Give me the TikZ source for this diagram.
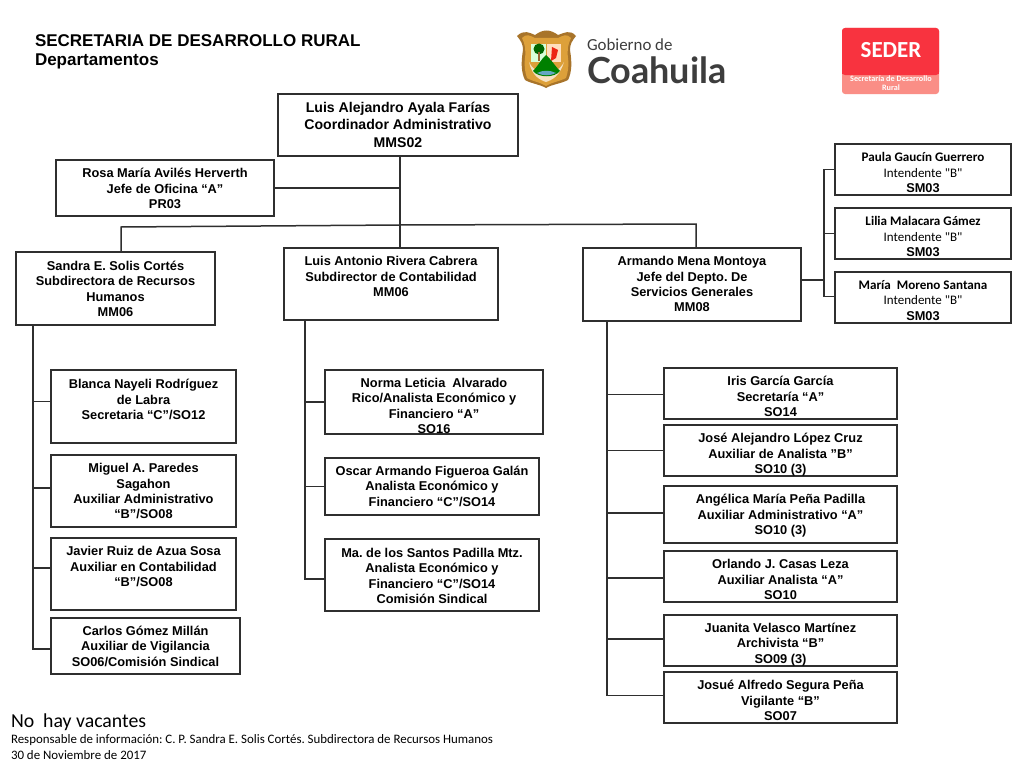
\documentclass[tikz,border=0pt]{standalone}
\usepackage{fontspec}
\setmainfont{Liberation Sans}
\newfontfamily\calfam{Carlito}
\newfontfamily\latofam{Lato}
\usetikzlibrary{calc}
\definecolor{ln}{HTML}{2F2F2F}
\definecolor{sred}{HTML}{F8333F}
\definecolor{spink}{HTML}{FA8E86}
\definecolor{cgray}{HTML}{3D3D3D}
\definecolor{sgold}{HTML}{DDA03A}
\definecolor{sbrown}{HTML}{A8742A}
\tikzset{
  box/.style={draw=ln,line width=1.2pt,fill=white,inner sep=0pt,outer sep=0pt,font=\bfseries\fontsize{12.8}{15.4}\selectfont},
  bigbox/.style={box,font=\bfseries\fontsize{14.1}{17.6}\selectfont},
  link/.style={draw=ln,line width=1.5pt},
  plain/.style={inner sep=0pt,outer sep=0pt}
}
\newcommand{\cname}[1]{{\calfam\fontsize{13.1}{15.4}\selectfont #1}}
\newcommand{\cintd}{{\calfam\mdseries\fontsize{13}{15.4}\selectfont Intendente "B"}}
% x1, y1, x2, y2, top gap, text, name
\newcommand{\orgbox}[8][box]{%
  \pgfmathsetlengthmacro{\bw}{#4-#2}%
  \pgfmathsetlengthmacro{\bh}{#5-#3}%
  \pgfmathsetmacro{\cx}{(#2+#4)/2}%
  \pgfmathsetmacro{\cy}{(#3+#5)/2}%
  \node[#1] (#8) at (\cx,\cy) {\parbox[c][\bh][t]{\bw}{\centering\vspace*{#6pt}#7\par}};%
}
\begin{document}
\frenchspacing
\begin{tikzpicture}[x=1pt,y=-1pt]
\useasboundingbox (0,0) rectangle (1024,768);
\fill[white] (0,0) rectangle (1024,768);
% named points of the trunks
\coordinate (t1) at (400,225);
\coordinate (t2) at (121,227);
\coordinate (t3) at (696,224);
\coordinate (sx) at (33,325);
\coordinate (lx) at (305,320);
\coordinate (ax) at (607,321);
\coordinate (rx) at (824,280);
% boxes
\orgbox[bigbox]{278}{94}{518}{156}{8}{Luis Alejandro Ayala Farías\\Coordinador Administrativo\\MMS02}{top}
\orgbox{56}{160}{274}{216}{8.5}{Rosa María Avilés Herverth\\Jefe de Oficina “A”\\PR03}{rosa}
\orgbox{16}{252}{215}{325}{9}{Sandra E. Solis Cortés\\Subdirectora de Recursos\\Humanos\\MM06}{sandra}
\orgbox{284}{248}{498}{320}{8.5}{Luis Antonio Rivera Cabrera\\Subdirector de Contabilidad\\MM06}{luis}
\orgbox{583}{248}{801}{321}{8.5}{Armando Mena Montoya\\Jefe del Depto. De\\Servicios Generales\\MM08}{armando}
\orgbox{835}{144}{1011}{195}{8.5}{\cname{Paula Gaucín Guerrero}\\\cintd\\SM03}{paula}
\orgbox{835}{208}{1011}{259}{8.5}{\cname{Lilia Malacara Gámez}\\\cintd\\SM03}{lilia}
\orgbox{835}{272}{1011}{323}{8.5}{\cname{María\ \ Moreno Santana}\\\cintd\\SM03}{maria}
\orgbox{51}{370}{236}{443}{9.5}{Blanca Nayeli Rodríguez\\de Labra\\Secretaria “C”/SO12}{blanca}
\orgbox{51}{455}{236}{527}{8.5}{Miguel A. Paredes\\Sagahon\\Auxiliar Administrativo\\“B”/SO08}{miguel}
\orgbox{51}{538}{236}{610}{8.5}{Javier Ruiz de Azua Sosa\\Auxiliar en Contabilidad\\“B”/SO08}{javier}
\orgbox{51}{618}{240}{674}{8}{Carlos Gómez Millán\\Auxiliar de Vigilancia\\SO06/Comisión Sindical}{carlos}
\orgbox{325}{370}{543}{434}{8}{Norma Leticia\ \ Alvarado\\Rico/Analista Económico y\\Financiero “A”\\SO16}{norma}
\orgbox{325}{458}{539}{515}{8}{Oscar Armando Figueroa Galán\\Analista Económico y\\Financiero “C”/SO14}{oscar}
\orgbox{325}{539}{539}{611}{9}{Ma. de los Santos Padilla Mtz.\\Analista Económico y\\Financiero “C”/SO14\\Comisión Sindical}{santos}
\orgbox{664}{368}{897}{419}{8.5}{Iris García García\\Secretaría “A”\\SO14}{iris}
\orgbox{664}{425}{897}{476}{8.5}{José Alejandro López Cruz\\Auxiliar de Analista ”B”\\SO10 (3)}{jose}
\orgbox{664}{486}{897}{543}{8.5}{Angélica María Peña Padilla\\Auxiliar Administrativo “A”\\SO10 (3)}{angelica}
\orgbox{664}{551}{897}{602}{8.5}{Orlando J. Casas Leza\\Auxiliar Analista “A”\\SO10}{orlando}
\orgbox{664}{615}{897}{666}{8}{Juanita Velasco Martínez\\Archivista “B”\\SO09 (3)}{juanita}
\orgbox{664}{672}{897}{723}{8.5}{Josué Alfredo Segura Peña\\Vigilante “B”\\SO07}{josue}
% connectors (yshift counts upward on the canvas)
\draw[link] (top.south -| t1) -- (t1);
\draw[link] (rosa.east) -- (rosa.east -| t1);
\draw[link] (t2 |- sandra.north) -- (t2) -- (t1) -- (t3) -- (t3 |- armando.north);
\draw[link] (t1) -- (t1 |- luis.north);
\draw[link] (sx) -- ([yshift=-3pt]sx |- carlos.west) -- ([yshift=-3pt]carlos.west);
\foreach \n/\s in {blanca/5,miguel/3,javier/6}{\draw[link] ([yshift=\s pt]sx |- \n.west) -- ([yshift=\s pt]\n.west);}
\draw[link] (lx) -- ([yshift=-4pt]lx |- santos.west) -- ([yshift=-4pt]santos.west);
\draw[link] (lx |- norma.west) -- (norma.west);
\draw[link] (lx |- oscar.west) -- (oscar.west);
\draw[link] (ax) -- ([yshift=2pt]ax |- josue.west) -- ([yshift=2pt]josue.west);
\foreach \n/\s in {iris/-1,jose/0,angelica/1.5,orlando/-1.5,juanita/1.5}{\draw[link] ([yshift=\s pt]ax |- \n.west) -- ([yshift=\s pt]\n.west);}
\draw[link] (armando.east |- rx) -- (rx);
\draw[link] (paula.west) -- (paula.west -| rx) -- ([yshift=1pt]rx |- maria.west) -- ([yshift=1pt]maria.west);
\draw[link] (lilia.west) -- (lilia.west -| rx);
% headings
\node[plain,anchor=base west,font=\bfseries\fontsize{17}{20}\selectfont] (h1) at (35,46) {SECRETARIA DE DESARROLLO RURAL};
\node[plain,anchor=base west,font=\bfseries\fontsize{17}{20}\selectfont] (h2) at (35,66) {Departamentos};
% Coahuila logo
\fill[sbrown] (517,36) .. controls (524,29) and (530,33) .. (535,35) .. controls (543,29) and (550,29) .. (558,35) .. controls (564,33) and (570,29) .. (576,36) .. controls (572,41) and (570,44) .. (570,50) .. controls (572,62) and (572,72) .. (568,80) .. controls (560,84) and (553,84) .. (546,88) .. controls (539,84) and (532,84) .. (525,80) .. controls (521,72) and (521,62) .. (523,50) .. controls (523,44) and (521,41) .. (517,36) -- cycle;
\fill[sgold] (522,38) .. controls (526,33) and (531,36) .. (535,38) -- (558,38) .. controls (562,36) and (567,33) .. (571,38) .. controls (568,44) and (567,50) .. (568,58) .. controls (569,66) and (568,72) .. (566,78) .. controls (558,82) and (552,82) .. (546,86) .. controls (540,82) and (534,82) .. (527,78) .. controls (525,72) and (524,66) .. (525,58) .. controls (526,50) and (525,44) .. (522,38) -- cycle;
\fill[white!85!green] (531,44) rectangle (546,62);
\fill[green!40!black] (539,49) circle (5.5);
\fill[brown!80!black] (538,52) rectangle (540,61);
\fill[orange!25!white] (547,44) rectangle (561,62);
\fill[red!70!brown] (552,47) -- (558,50) -- (556,58) -- (551,61) -- cycle;
\fill[white!70!sgold] (529,62) .. controls (532,76) and (540,80) .. (546,82) .. controls (552,80) and (560,76) .. (564,62) .. controls (560,70) and (552,74) .. (546,74) .. controls (540,74) and (533,70) .. (529,62) -- cycle;
\fill[green!50!black] (533,71) .. controls (538,66) and (542,58) .. (546,55) .. controls (550,58) and (555,66) .. (560,71) .. controls (555,78) and (538,78) .. (533,71) -- cycle;
\fill[cyan!50!gray] (537,73) .. controls (543,70) and (550,70) .. (556,73) .. controls (550,76) and (543,76) .. (537,73) -- cycle;
\node[plain,anchor=base west,text=cgray,font=\calfam\fontsize{16.9}{20}\selectfont] (gob) at (587,51) {Gobierno de};
\node[plain,anchor=base west,text=cgray,font=\latofam\bfseries\fontsize{36}{40}\selectfont] (coa) at (587,83) {Coahuila};
% SEDER logo
\fill[spink,rounded corners=3pt] (842,28) rectangle (939,94);
\fill[sred,rounded corners=3pt] (842,28) rectangle (939,75);
\fill[sred] (842,68) rectangle (939,74);
\node[plain,text=white,font=\calfam\bfseries\fontsize{23}{26}\selectfont] (seder) at (891,50) {SEDER};
\node[plain,text=white,align=center,font=\calfam\bfseries\fontsize{8.2}{8.8}\selectfont] (sub) at (891,83.5) {Secretaría de Desarrollo\\Rural};
% footer
\node[plain,anchor=base west,font=\calfam\fontsize{19.8}{24}\selectfont] (nv) at (11,727) {No\ \ hay vacantes};
\node[plain,anchor=base west,font=\calfam\fontsize{12.9}{16}\selectfont] (resp) at (11,743.5) {Responsable de información: C. P. Sandra E. Solis Cortés. Subdirectora de Recursos Humanos};
\node[plain,anchor=base west,font=\calfam\fontsize{12.9}{16}\selectfont] (fecha) at (11,759) {30 de Noviembre de 2017};
\end{tikzpicture}
\end{document}
